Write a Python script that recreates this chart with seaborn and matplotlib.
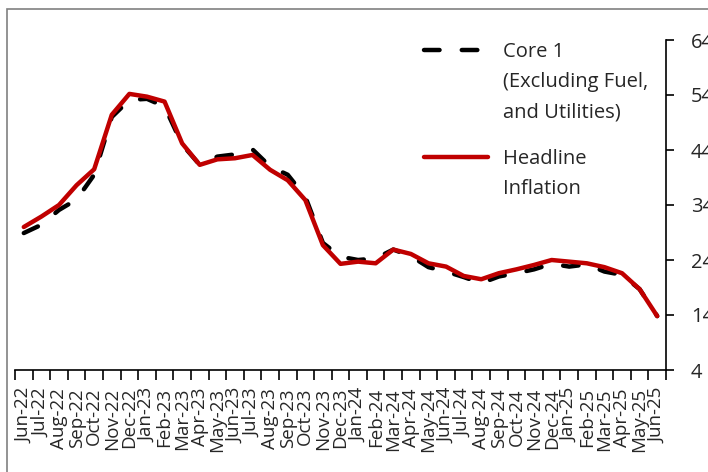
import matplotlib
matplotlib.use("Agg")
import matplotlib.pyplot as plt
import matplotlib.patches as mpatches
from matplotlib.lines import Line2D
from matplotlib.ticker import FixedLocator, NullFormatter
import seaborn as sns
import pandas as pd
import numpy as np

months = ["Jun-22","Jul-22","Aug-22","Sep-22","Oct-22","Nov-22","Dec-22","Jan-23","Feb-23","Mar-23",
          "Apr-23","May-23","Jun-23","Jul-23","Aug-23","Sep-23","Oct-23","Nov-23","Dec-23","Jan-24",
          "Feb-24","Mar-24","Apr-24","May-24","Jun-24","Jul-24","Aug-24","Sep-24","Oct-24","Nov-24",
          "Dec-24","Jan-25","Feb-25","Mar-25","Apr-25","May-25","Jun-25"]

core1 = [28.9, 30.4, 33.1, 35.0, 39.5, 50.0, 53.1, 53.3, 51.9, 45.0,
         41.3, 42.8, 43.2, 44.1, 41.0, 39.5, 35.5, 27.1, 24.6, 24.0,
         24.3, 25.9, 24.7, 22.7, 21.9, 20.9, 19.8, 21.0, 21.6, 22.3,
         23.3, 22.8, 23.2, 21.9, 21.3, 18.7, 13.8]

headline = [30.0, 31.9, 34.0, 37.6, 40.5, 50.4, 54.2, 53.7, 52.8, 45.2,
            41.3, 42.3, 42.5, 43.1, 40.4, 38.5, 34.9, 26.7, 23.3, 23.7,
            23.4, 25.9, 25.1, 23.4, 22.8, 21.1, 20.5, 21.6, 22.3, 23.1,
            24.0, 23.7, 23.4, 22.7, 21.6, 18.7, 13.8]

yticks = [4, 14, 24, 34, 44, 54, 64]

core_label = ["Core 1", "(Excluding Fuel,", "and Utilities)"]
head_label = ["Headline", "Inflation"]

RED = "#C00000"
DASH = (3.5, 5.0)
LW = 3.2
FS = 14.5

sns.set_style("white")
plt.rcParams['font.family'] = ['Open Sans', 'DejaVu Sans']

W, H = 708, 472
fig = plt.figure(figsize=(W/100, H/100), dpi=100)
ax = fig.add_axes([15/W, 1 - 370/H, (666-15)/W, (370-40)/H])

x = np.arange(len(months))
df = pd.DataFrame({"x": x, "core": core1, "head": headline})

sns.lineplot(data=df, x="x", y="core", ax=ax, color="black", lw=LW, legend=False)
ax.lines[-1].set_dashes(DASH)
ax.lines[-1].set_dash_capstyle("round")
sns.lineplot(data=df, x="x", y="head", ax=ax, color=RED, lw=LW, legend=False)
ax.lines[-1].set_solid_capstyle("round")

ax.set_xlim(-0.5, len(months) - 0.5)
ax.set_ylim(4, 64)
ax.set_xlabel("")
ax.set_ylabel("")

# x ticks at boundaries, labels at centres
ax.xaxis.set_major_locator(FixedLocator(np.arange(-0.5, len(months), 1.0)))
ax.xaxis.set_major_formatter(NullFormatter())
ax.xaxis.set_minor_locator(FixedLocator(x))
ax.set_xticklabels(months, minor=True, rotation=90, fontsize=13.5)
ax.tick_params(axis="x", which="major", direction="out", length=7, width=1.2, color="black", bottom=True)
ax.tick_params(axis="x", which="minor", length=0, pad=13)

ax.yaxis.tick_right()
ax.set_yticks(yticks)
ax.set_yticklabels([str(v) for v in yticks], fontsize=FS)
ax.tick_params(axis="y", direction="out", length=6, width=1.2, color="black", right=True, left=False, pad=12)

for s in ["top", "left"]:
    ax.spines[s].set_visible(False)
for s in ["bottom", "right"]:
    ax.spines[s].set_color("black")
    ax.spines[s].set_linewidth(1.2)

def blank():
    return Line2D([], [], color="none", lw=0)

core_h = Line2D([], [], color="black", lw=LW, dashes=DASH, dash_capstyle="round")
head_h = Line2D([], [], color=RED, lw=LW, solid_capstyle="round")

common = dict(frameon=False, fontsize=FS, handlelength=3.2, handletextpad=0.7,
              borderpad=0, borderaxespad=0, labelspacing=0.5, bbox_transform=fig.transFigure,
              loc="upper left")
leg1 = ax.legend([core_h, blank(), blank()], core_label,
                 bbox_to_anchor=(424/W, 1 - 42/H), **common)
ax.add_artist(leg1)
leg2 = ax.legend([head_h, blank()], head_label,
                 bbox_to_anchor=(424/W, 1 - 149/H), **common)

# outer frame
rect = mpatches.Rectangle((6.5/W, -0.2), 1.2, 1.2 - 8.5/H, transform=fig.transFigure,
                          fill=False, edgecolor="#808080", lw=1.2, clip_on=False)
fig.patches.append(rect)

fig.savefig("out.png", dpi=100)
